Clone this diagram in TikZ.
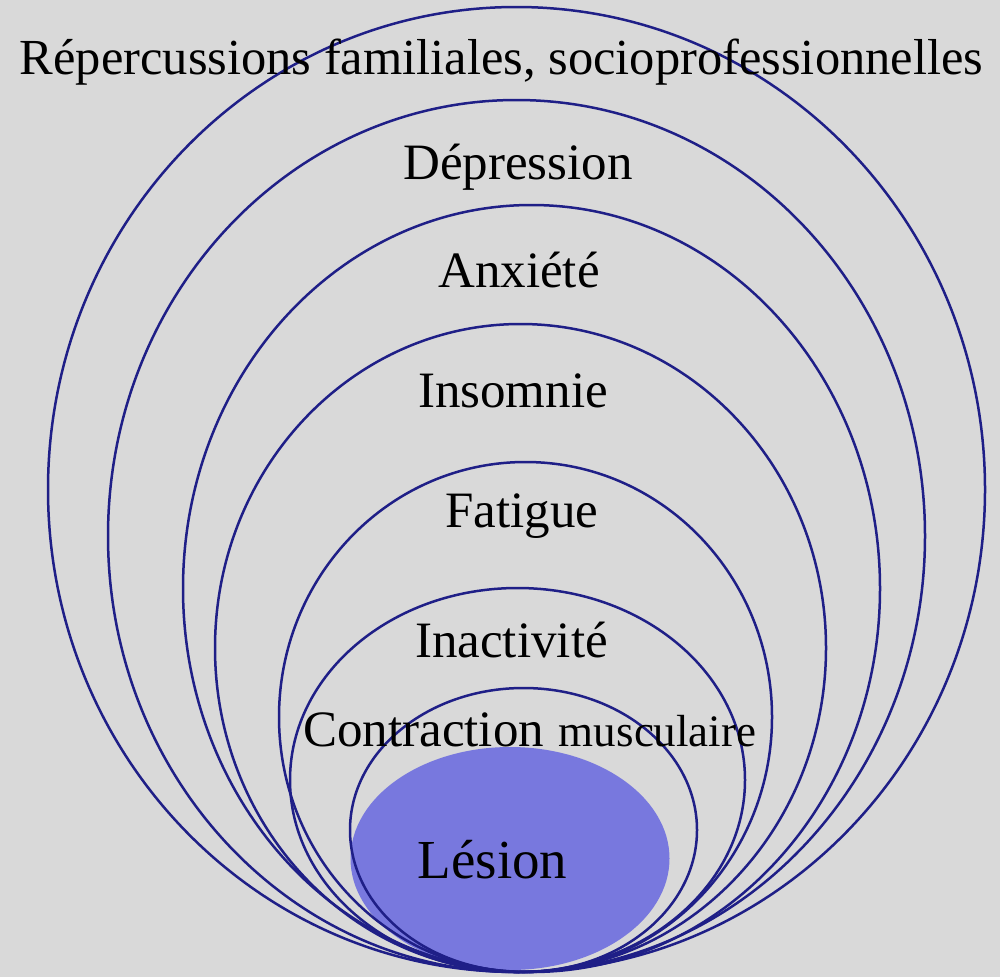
\documentclass[tikz,border=0pt]{standalone}
\usepackage{fontspec}
\setmainfont{Liberation Serif}
\definecolor{bgGray}{RGB}{217,217,217}
\definecolor{ringBlue}{RGB}{31,31,135}
\definecolor{coreBlue}{RGB}{120,120,222}
\begin{document}
\begin{tikzpicture}[x=1pt,y=-1pt,
  ring/.style={draw=ringBlue,line width=2.5pt},
  core/.style={fill=coreBlue},
  lbl/.style={inner sep=0pt,anchor=base,text=black,font=\fontsize{51}{56}\selectfont}]
  % canvas
  \fill[bgGray] (0,0) rectangle (1000,977);
  \useasboundingbox (0,0) rectangle (1000,977);
  % core lesion
  \fill[core] (510,858.5) ellipse [x radius=159.5pt, y radius=111.5pt];
  % nested rings, all touching at the bottom
  \draw[ring] (516.5,489.5) ellipse [x radius=468.5pt, y radius=482.5pt];
  \draw[ring] (516.5,536)   ellipse [x radius=408.5pt, y radius=436pt];
  \draw[ring] (531.5,588.5) ellipse [x radius=348.5pt, y radius=383.5pt];
  \draw[ring] (520.5,648)   ellipse [x radius=305.5pt, y radius=324pt];
  \draw[ring] (525.5,717)   ellipse [x radius=246.5pt, y radius=255pt];
  \draw[ring] (517.5,780)   ellipse [x radius=227.5pt, y radius=192pt];
  \draw[ring] (523.5,830)   ellipse [x radius=173.5pt, y radius=142pt];
  % labels
  \node[lbl,font=\fontsize{50.5}{56}\selectfont] (rep) at (501.5,74) {Répercussions familiales, socioprofessionnelles};
  \node[lbl] (dep) at (518,179) {Dépression};
  \node[lbl] (anx) at (519,287) {Anxiété};
  \node[lbl] (ins) at (513,407) {Insomnie};
  \node[lbl] (fat) at (522,527) {Fatigue};
  \node[lbl] (ina) at (511.5,657) {Inactivité};
  \node[lbl,anchor=base west] (con) at (303,746) {Contraction\hspace{15pt}{\fontsize{45}{50}\selectfont musculaire}};
  \node[lbl,font=\fontsize{55}{60}\selectfont] (les) at (492.5,878) {Lésion};
\end{tikzpicture}
\end{document}
